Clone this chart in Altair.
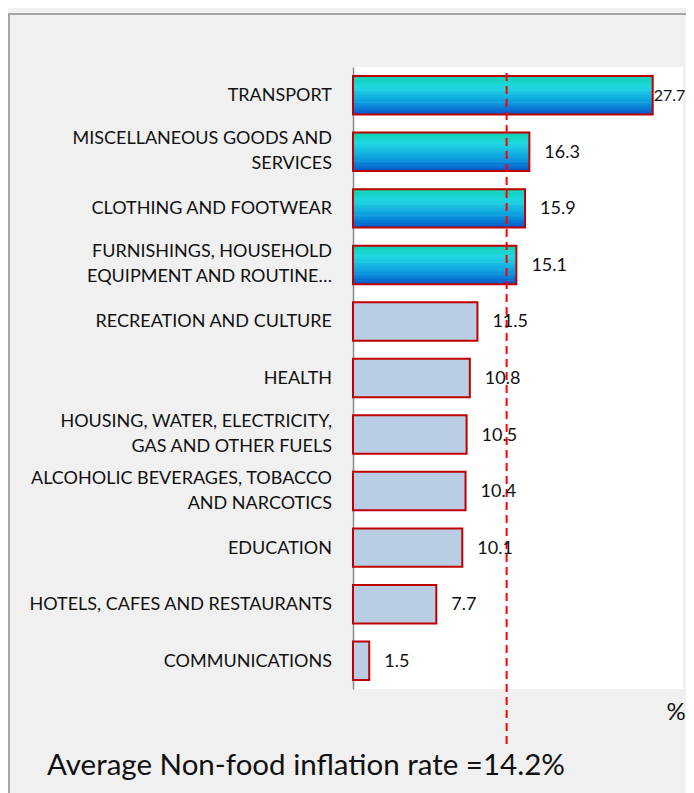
import altair as alt
import pandas as pd

categories = [
    "TRANSPORT",
    "MISCELLANEOUS GOODS AND|SERVICES",
    "CLOTHING AND FOOTWEAR",
    "FURNISHINGS, HOUSEHOLD|EQUIPMENT AND ROUTINE\u2026",
    "RECREATION AND CULTURE",
    "HEALTH",
    "HOUSING, WATER, ELECTRICITY,|GAS AND OTHER FUELS",
    "ALCOHOLIC BEVERAGES, TOBACCO|AND NARCOTICS",
    "EDUCATION",
    "HOTELS, CAFES AND RESTAURANTS",
    "COMMUNICATIONS",
]
values = [27.7, 16.3, 15.9, 15.1, 11.5, 10.8, 10.5, 10.4, 10.1, 7.7, 1.5]
average = 14.2
avg_text = ["Average Non-food inflation rate =14.2%"]
unit_text = ["%"]

df = pd.DataFrame({"cat": categories, "value": values})
df["label"] = df["value"].map(lambda v: f"{v:.1f}")

FONT = "Lato"
FS = 18
LH = 25
W, H = 330, 622
P_IN, P_OUT = 0.32, 0.16
step = H / (len(categories) - P_IN + 2 * P_OUT)
bw = step * (1 - P_IN)

y_scale = alt.Scale(domain=categories, paddingInner=P_IN, paddingOuter=P_OUT)
y_enc = alt.Y("cat:N", scale=y_scale,
              axis=alt.Axis(labels=False, ticks=False, title=None, domainColor="#8c8c8c",
                            domainWidth=1.5, grid=False))
x_scale = alt.Scale(domain=[0, 30.5], nice=False)
x_enc = alt.X("value:Q", scale=x_scale, axis=None)

base = alt.Chart(df)
hi = base.transform_filter(alt.datum.value > average)
lo = base.transform_filter(alt.datum.value <= average)

# vertical gradient (teal -> cyan -> blue) built from thin stripes
stops = [(0.0, (12, 207, 174)), (0.3, (31, 216, 226)), (0.7, (12, 154, 224)), (1.0, (6, 87, 200))]


def color_at(t):
    for (o1, c1), (o2, c2) in zip(stops[:-1], stops[1:]):
        if o1 <= t <= o2:
            f = (t - o1) / (o2 - o1)
            c = [round(a + (b - a) * f) for a, b in zip(c1, c2)]
            return "#%02x%02x%02x" % tuple(c)
    return "#%02x%02x%02x" % stops[-1][1]


N = 16
hs = bw / N
stripe_layers = []
for i in range(N):
    t = (i + 0.5) / N
    stripe_layers.append(
        hi.mark_bar(fill=color_at(t), height=hs + 0.6, yOffset=-bw / 2 + hs * (i + 0.5))
        .encode(x=x_enc, y=y_enc)
    )

bars_outline_hi = hi.mark_bar(
    fillOpacity=0, stroke="#c00000", strokeWidth=2
).encode(x=x_enc, y=y_enc)

bars_flat = lo.mark_bar(
    fill="#b9cde5", stroke="#c00000", strokeWidth=2
).encode(x=x_enc, y=y_enc)

lbl_near = base.transform_filter(alt.datum.value < 20).mark_text(
    align="left", baseline="middle", dx=15, dy=1, font=FONT, fontSize=FS, color="#111111"
).encode(x=x_enc, y=y_enc, text="label:N")

lbl_far = base.transform_filter(alt.datum.value >= 20).mark_text(
    align="left", baseline="middle", dx=1, dy=1, font=FONT, fontSize=16, color="#111111"
).encode(x=x_enc, y=y_enc, text="label:N")

cat_one = base.transform_filter("indexof(datum.cat, '|') < 0").mark_text(
    align="right", baseline="middle", dy=1, font=FONT, fontSize=FS, color="#111111"
).encode(x=alt.value(-21), y=y_enc, text="cat:N")

cat_two = base.transform_filter("indexof(datum.cat, '|') >= 0").mark_text(
    align="right", baseline="middle", lineBreak="|", lineHeight=LH, dy=-LH / 2,
    font=FONT, fontSize=FS, color="#111111"
).encode(x=alt.value(-21), y=y_enc, text="cat:N")

avg_df = pd.DataFrame({"v": [average]})
avg_rule = alt.Chart(avg_df).mark_rule(
    color="#ff0000", strokeWidth=2, strokeDash=[8, 5]
).encode(x=alt.X("v:Q", scale=x_scale, axis=None), y=alt.value(6), y2=alt.value(679))

avg_label = alt.Chart(pd.DataFrame({"t": avg_text})).mark_text(
    align="left", baseline="middle", font=FONT, fontSize=29.5, color="#111111"
).encode(x=alt.value(-306), y=alt.value(699), text="t:N")

unit_label = alt.Chart(pd.DataFrame({"t": unit_text})).mark_text(
    align="center", baseline="middle", font=FONT, fontSize=24, color="#111111"
).encode(x=alt.value(323), y=alt.value(646), text="t:N")

frame = alt.Chart(pd.DataFrame({"t": [1]})).mark_rect(
    fillOpacity=0, stroke="#8c8c8c", strokeWidth=1.5
).encode(x=alt.value(-344), y=alt.value(-53), x2=alt.value(400), y2=alt.value(800))

chart = alt.layer(
    frame, bars_flat, *stripe_layers, bars_outline_hi, avg_rule, lbl_near, lbl_far,
    cat_one, cat_two, avg_label, unit_label
).properties(
    width=W, height=H,
    background="#f0f0f0",
    padding={"left": 345, "top": 59, "right": 3, "bottom": 104},
    autosize=alt.AutoSizeParams(type="none"),
).configure_view(fill="white", stroke=None)

chart.save("out.html", embed_options={"renderer": "svg", "actions": False})
